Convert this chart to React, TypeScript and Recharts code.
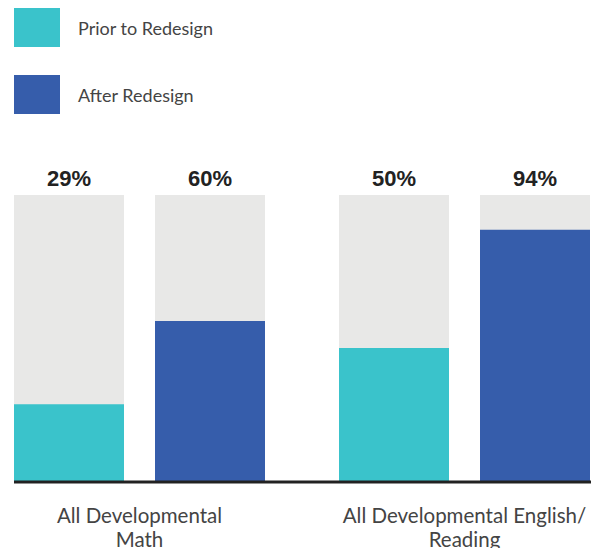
import { BarChart, Bar, XAxis, YAxis, Legend, LabelList } from "recharts";

// values
const categories = ["All Developmental\nMath", "All Developmental English/\nReading"];
const priorValues = [29, 50];
const afterValues = [60, 94];
const seriesNames = ["Prior to Redesign", "After Redesign"];
const seriesColors = ["#3AC3CB", "#365DAB"];

const data = categories.map((name, i) => ({
  name,
  prior: priorValues[i],
  after: afterValues[i],
}));

const FONT = "Lato, 'Noto Sans', sans-serif";

function CategoryTick(props: any) {
  const { x, y, payload } = props;
  const lines = String(payload.value).split("\n");
  return (
    <g>
      {lines.map((line: string, i: number) => (
        <text
          key={i}
          x={x}
          y={y + 33 + i * 24}
          textAnchor="middle"
          fill="#444"
          fontFamily={FONT}
          fontSize={20.5}
        >
          {line}
        </text>
      ))}
    </g>
  );
}

function PercentLabel(props: any) {
  const { x, width, value } = props;
  return (
    <text
      x={Number(x) + Number(width) / 2}
      y={186}
      textAnchor="middle"
      fill="#222"
      fontFamily="'Liberation Sans', Arial, sans-serif"
      fontWeight="bold"
      fontSize={22}
    >
      {value}%
    </text>
  );
}

function LegendBox(props: any) {
  // keep the series order instead of the alphabetical one
  const items = [...(props.payload || [])].sort(
    (a: any, b: any) => seriesNames.indexOf(a.value) - seriesNames.indexOf(b.value)
  );
  return (
    <div style={{ fontFamily: FONT }}>
      {items.map((entry: any, i: number) => (
        <div
          key={i}
          style={{ display: "flex", alignItems: "center", height: 39, marginBottom: 28 }}
        >
          <div style={{ width: 46, height: 39, background: entry.color }} />
          <span style={{ marginLeft: 18, fontSize: 18, color: "#444" }}>{entry.value}</span>
        </div>
      ))}
    </div>
  );
}

export default function App() {
  return (
    <div style={{ position: "absolute", left: 0, top: 0, background: "#fff" }}>
      <BarChart
        width={591}
        height={548}
        data={data}
        margin={{ top: 195, right: 0, bottom: 36, left: 14 }}
        barSize={110}
        barGap={31}
      >
        <YAxis hide domain={[0, 107]} />
        <XAxis
          dataKey="name"
          height={30}
          padding={{ left: -37, right: -36 }}
          tickLine={false}
          axisLine={{ stroke: "#222", strokeWidth: 3 }}
          tick={<CategoryTick />}
          interval={0}
        />
        <Legend
          layout="horizontal"
          verticalAlign="middle"
          align="center"
          content={<LegendBox />}
          wrapperStyle={{ top: 8, left: 14, width: 300, height: 110 }}
        />
        <Bar
          dataKey="prior"
          name={seriesNames[0]}
          fill={seriesColors[0]}
          background={{ fill: "#E8E8E7" }}
          isAnimationActive={false}
        >
          <LabelList dataKey="prior" content={<PercentLabel />} />
        </Bar>
        <Bar
          dataKey="after"
          name={seriesNames[1]}
          fill={seriesColors[1]}
          background={{ fill: "#E8E8E7" }}
          isAnimationActive={false}
        >
          <LabelList dataKey="after" content={<PercentLabel />} />
        </Bar>
      </BarChart>
    </div>
  );
}
